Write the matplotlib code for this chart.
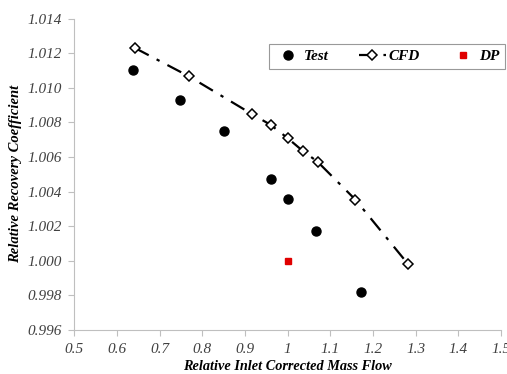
import matplotlib
matplotlib.use('Agg')
import matplotlib.pyplot as plt

# Data
test_x = [0.637, 0.747, 0.851, 0.960, 1.000, 1.066, 1.173]
test_y = [1.0110, 1.00928, 1.00751, 1.00474, 1.00359, 1.00175, 0.99822]

cfd_x = [0.642, 0.768, 0.917, 0.960, 1.000, 1.035, 1.070, 1.159, 1.283]
cfd_y = [1.0123, 1.01067, 1.00847, 1.00786, 1.00709, 1.00636, 1.00573, 1.00353, 0.99979]

dp_x = [1.0]
dp_y = [1.0]

x_ticks = [0.5, 0.6, 0.7, 0.8, 0.9, 1.0, 1.1, 1.2, 1.3, 1.4, 1.5]
x_tick_labels = ['0.5', '0.6', '0.7', '0.8', '0.9', '1', '1.1', '1.2', '1.3', '1.4', '1.5']
y_ticks = [0.996, 0.998, 1.000, 1.002, 1.004, 1.006, 1.008, 1.010, 1.012, 1.014]

plt.rcParams['font.family'] = ['Liberation Serif', 'DejaVu Serif']
plt.rcParams['font.style'] = 'italic'

fig = plt.figure(figsize=(5.07, 3.74), dpi=100)
ax = fig.add_axes([0.1467, 0.1176, 0.8413, 0.8327])

# Plot
ax.plot(test_x, test_y, linestyle='none', marker='o', markersize=6.5,
        color='black', label='Test', zorder=3)
ax.plot(cfd_x, cfd_y, linestyle='-.', dashes=(7, 4, 1.5, 4), linewidth=1.6,
        color='black', marker='D', markersize=5.2, markerfacecolor='white',
        markeredgecolor='black', markeredgewidth=1.1, label='CFD', zorder=2)
ax.plot(dp_x, dp_y, linestyle='none', marker='s', markersize=4.2,
        color='#e00000', label='DP', zorder=3)

# Chart aesthetics
ax.set_xlim(0.5, 1.5)
ax.set_ylim(0.996, 1.014)
ax.set_xticks(x_ticks)
ax.set_xticklabels(x_tick_labels, fontstyle='italic')
ax.set_yticks(y_ticks)
ax.set_yticklabels(['%.3f' % v for v in y_ticks], fontstyle='italic')
ax.tick_params(axis='both', direction='out', length=4, width=0.8, color='#bfbfbf',
               pad=5, labelsize=11, labelcolor='#404040')
for side in ['top', 'right']:
    ax.spines[side].set_visible(False)
for side in ['left', 'bottom']:
    ax.spines[side].set_color('#bfbfbf')
    ax.spines[side].set_linewidth(0.8)

ax.set_xlabel('Relative Inlet Corrected Mass Flow', fontsize=10.3,
              fontweight='bold', fontstyle='italic', labelpad=3)
ax.set_ylabel('Relative Recovery Coefficient', fontsize=10.5,
              fontweight='bold', fontstyle='italic', labelpad=4)

leg = ax.legend(loc='upper left', bbox_to_anchor=(0.456, 0.838, 0.553, 0.08),
                mode='expand', ncol=3, frameon=True, fancybox=False,
                edgecolor='#808080',
                prop={'weight': 'bold', 'style': 'italic', 'size': 11},
                handlelength=1.8, columnspacing=1.0, borderpad=0.35,
                handletextpad=0.15, borderaxespad=0)
leg.get_frame().set_linewidth(0.8)

fig.savefig('out.png', dpi=100)
